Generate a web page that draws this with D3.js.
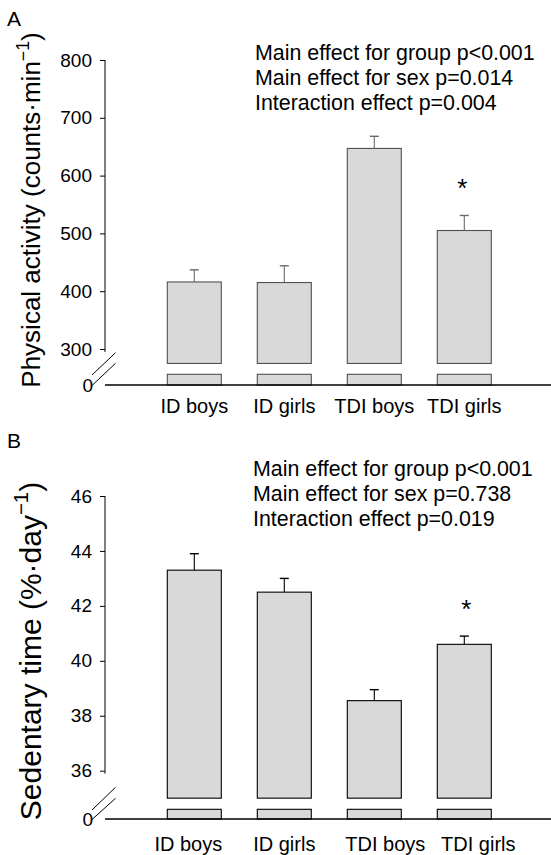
<!DOCTYPE html>
<html>
<head>
<meta charset="utf-8">
<script src="https://cdn.jsdelivr.net/npm/d3@7"></script>
<style>
  html, body { margin: 0; padding: 0; background: #fff; }
  svg { display: block; font-family: "Liberation Sans", Arial, sans-serif; }
</style>
</head>
<body>
<svg id="chart" width="551" height="855"></svg>
<script>
// Group categories shared by both panels
const categories = ["ID boys", "ID girls", "TDI boys", "TDI girls"];

// Panel A: physical activity (counts·min-1), mean and SE
const activityMean = [416, 415, 647, 505];
const activitySE = [21, 29, 21, 26];
const activityTicks = [300, 400, 500, 600, 700, 800];
const activityStats = ["Main effect for group p<0.001", "Main effect for sex p=0.014", "Interaction effect p=0.004"];
const activitySignificant = [false, false, false, true];

// Panel B: sedentary time (%·day-1), mean and SE
const sedentaryMean = [43.3, 42.5, 38.55, 40.6];
const sedentarySE = [0.6, 0.5, 0.4, 0.3];
const sedentaryTicks = [36, 38, 40, 42, 44, 46];
const sedentaryStats = ["Main effect for group p<0.001", "Main effect for sex p=0.738", "Interaction effect p=0.019"];
const sedentarySignificant = [false, false, false, true];

const svg = d3.select("#chart");

const x = d3.scaleBand()
  .domain(categories)
  .range([131.3, 527.3])
  .paddingInner(0.4)
  .paddingOuter(0.4);

function drawPanel(opt) {
  const g = svg.append("g");
  const y = d3.scaleLinear().domain(opt.domain).range(opt.range);
  const base = opt.baseline;
  const breakY = y(opt.breakValue);
  const stubTop = base - opt.stubHeight;
  const data = categories.map((c, i) => ({ c, m: opt.mean[i], se: opt.se[i], sig: opt.sig[i] }));

  // panel letter
  g.append("text").attr("x", 7).attr("y", opt.letterY)
    .attr("font-size", 21).attr("fill", "#000").text(opt.letter);

  // y axis (upper, continuous part)
  const axis = d3.axisLeft(y).tickValues(opt.ticks).tickSize(5).tickPadding(8).tickSizeOuter(0);
  const ag = g.append("g").attr("transform", "translate(105,0)").call(axis);
  ag.select(".domain").remove();
  ag.selectAll(".tick line").attr("stroke", "#000");
  ag.selectAll(".tick text").attr("font-size", 19).attr("fill", "#000")
    .attr("font-family", "'Liberation Sans', Arial, sans-serif");
  g.append("line").attr("x1", 105).attr("x2", 105)
    .attr("y1", y(opt.domain[1])).attr("y2", y(opt.domain[0]) + 3)
    .attr("stroke", "#000").attr("stroke-width", 1);

  // axis break marks
  opt.brk.forEach(b => {
    g.append("line").attr("x1", 92).attr("y1", b[0]).attr("x2", 115.5).attr("y2", b[1])
      .attr("stroke", "#000").attr("stroke-width", 1);
  });

  // zero label at the baseline
  g.append("text").attr("x", 93).attr("y", base).attr("dy", "0.35em")
    .attr("text-anchor", "end").attr("font-size", 19).attr("fill", "#000").text("0");

  // bars above the break
  g.selectAll("rect.upper").data(data).join("rect")
    .attr("class", "upper")
    .attr("x", d => x(d.c)).attr("width", x.bandwidth())
    .attr("y", d => y(d.m)).attr("height", d => breakY - y(d.m))
    .attr("fill", "#d9d9d9").attr("stroke", opt.barStroke).attr("stroke-width", 1.1);

  // bar stubs below the break
  g.selectAll("rect.stub").data(data).join("rect")
    .attr("class", "stub")
    .attr("x", d => x(d.c)).attr("width", x.bandwidth())
    .attr("y", stubTop).attr("height", base - stubTop)
    .attr("fill", "#d9d9d9").attr("stroke", opt.barStroke).attr("stroke-width", 1.1);

  // error bars (upper whisker only)
  const cx = d => x(d.c) + x.bandwidth() / 2;
  g.selectAll("line.err").data(data).join("line")
    .attr("class", "err")
    .attr("x1", cx).attr("x2", cx)
    .attr("y1", d => y(d.m)).attr("y2", d => y(d.m + d.se))
    .attr("stroke", opt.errStroke).attr("stroke-width", 1.1);
  g.selectAll("line.cap").data(data).join("line")
    .attr("class", "cap")
    .attr("x1", d => cx(d) - 4.5).attr("x2", d => cx(d) + 4.5)
    .attr("y1", d => y(d.m + d.se)).attr("y2", d => y(d.m + d.se))
    .attr("stroke", opt.errStroke).attr("stroke-width", 1.4);

  // significance markers
  g.selectAll("text.sig").data(data.filter(d => d.sig)).join("text")
    .attr("class", "sig")
    .attr("x", d => cx(d) + opt.sigDx)
    .attr("y", d => y(d.m + d.se) - opt.sigGap)
    .attr("text-anchor", "middle").attr("font-size", 26).attr("fill", "#000").text("*");

  // x axis baseline
  g.append("line").attr("x1", 105).attr("x2", 551).attr("y1", base).attr("y2", base)
    .attr("stroke", "#000").attr("stroke-width", 1.6);

  // category labels
  g.selectAll("text.cat").data(data).join("text")
    .attr("class", "cat")
    .attr("x", (d, i) => cx(d) + opt.labelDx[i])
    .attr("y", opt.labelY)
    .attr("text-anchor", "middle").attr("font-size", 20).attr("fill", "#000").text(d => d.c);

  // statistics annotation
  g.selectAll("text.stat").data(opt.stats).join("text")
    .attr("class", "stat")
    .attr("x", opt.statX).attr("y", (d, i) => opt.statY + i * 25)
    .attr("font-size", 21.4).attr("fill", "#000").text(d => d);

  // rotated y-axis title with superscript
  const t = g.append("text")
    .attr("transform", `translate(${opt.titleX},${opt.titleY}) rotate(-90)`)
    .attr("text-anchor", "middle").attr("font-size", opt.titleSize).attr("fill", "#000");
  t.append("tspan").text(opt.title);
  t.append("tspan").attr("font-size", opt.titleSize * 0.68).attr("dy", -opt.titleSize * 0.42).text("\u2212" + "1");
  t.append("tspan").attr("dy", opt.titleSize * 0.42).text(")");
}

drawPanel({
  letter: "A", letterY: 26,
  domain: [300, 800], range: [349, 60], ticks: activityTicks,
  baseline: 385, breakValue: 275, stubHeight: 10.7,
  brk: [[375, 352.7], [385.5, 363.3]],
  mean: activityMean, se: activitySE, sig: activitySignificant,
  barStroke: "#505050", errStroke: "#6a6a6a",
  sigDx: -2, sigGap: 18,
  labelY: 413, labelDx: [0, 0, 0, 0],
  stats: activityStats, statX: 255, statY: 60,
  title: "Physical activity (counts\u00B7min", titleX: 40, titleY: 210, titleSize: 26
});

drawPanel({
  letter: "B", letterY: 448,
  domain: [36, 46], range: [770.7, 496], ticks: sedentaryTicks,
  baseline: 819, breakValue: 35, stubHeight: 9.7,
  brk: [[810, 787.3], [819.5, 798.3]],
  mean: sedentaryMean, se: sedentarySE, sig: sedentarySignificant,
  barStroke: "#000", errStroke: "#000",
  sigDx: 2, sigGap: 18,
  labelY: 851, labelDx: [-6, 0, 11, 14],
  stats: sedentaryStats, statX: 253, statY: 476,
  title: "Sedentary time (%\u00B7day", titleX: 41, titleY: 651, titleSize: 30
});
</script>
</body>
</html>
